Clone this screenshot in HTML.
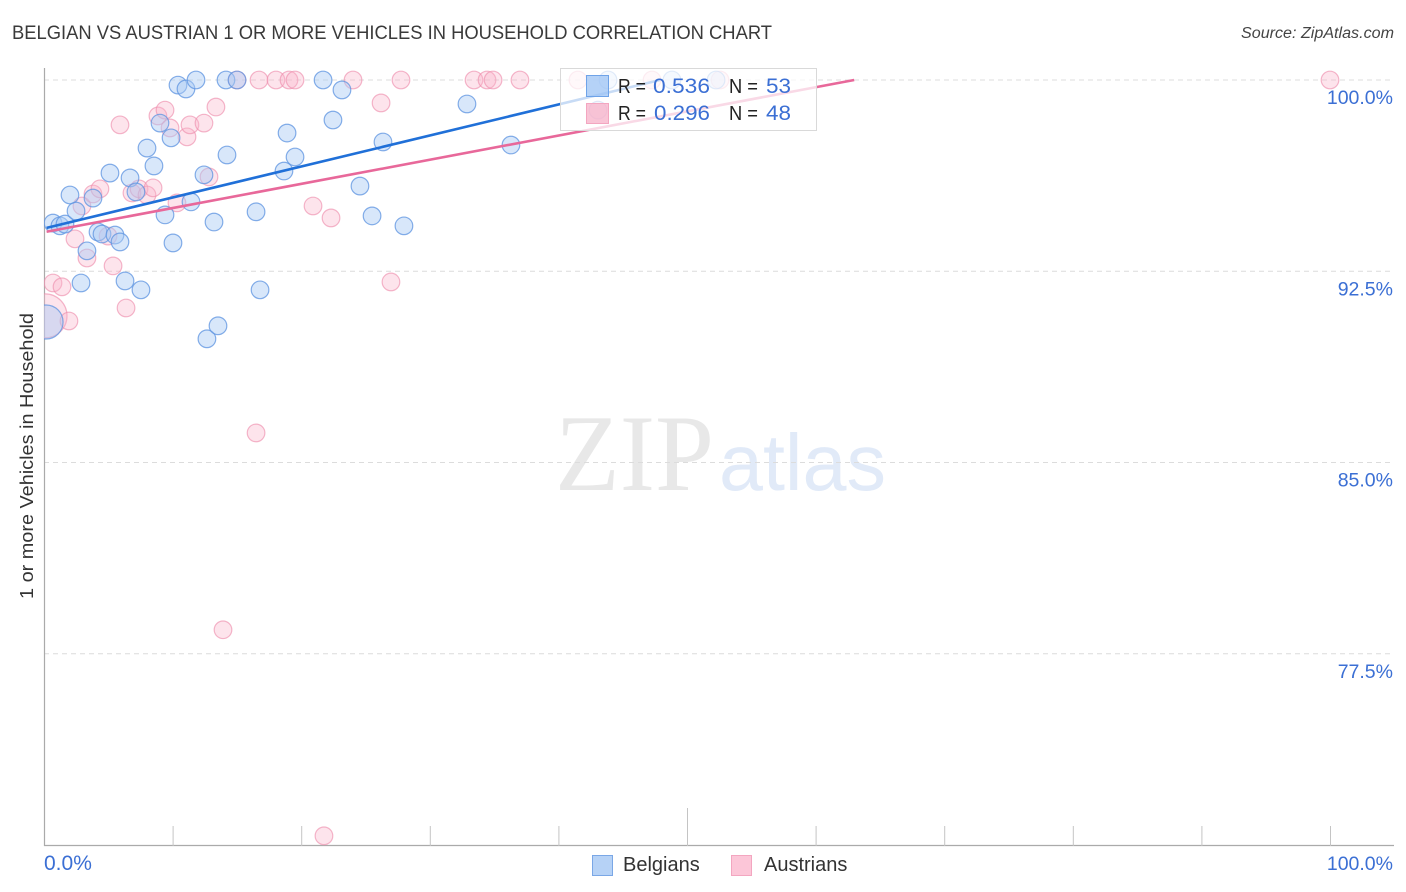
<!DOCTYPE html>
<html>
<head>
<meta charset="utf-8">
<title>Belgian vs Austrian chart</title>
<style>
html,body{margin:0;padding:0;background:#fff;width:1406px;height:892px;overflow:hidden}
svg{display:block;font-family:"Liberation Sans",sans-serif}
</style>
</head>
<body>
<svg id="chart" width="1406" height="892" viewBox="0 0 1406 892">
  <defs><clipPath id="plot-clip"><rect x="44" y="60" width="1350" height="786"/></clipPath></defs>
  <text x="12" y="39" font-size="19.5" fill="#3a3a3a" textLength="760" lengthAdjust="spacingAndGlyphs">BELGIAN VS AUSTRIAN 1 OR MORE VEHICLES IN HOUSEHOLD CORRELATION CHART</text>
  <text x="1394" y="38" font-size="15.5" font-style="italic" fill="#444" text-anchor="end" textLength="153" lengthAdjust="spacingAndGlyphs">Source: ZipAtlas.com</text>
  <g id="watermark">
    <text x="555" y="490" font-family="'Liberation Serif',serif" font-size="109" fill="#e8e8e8" textLength="159" lengthAdjust="spacingAndGlyphs">ZIP</text>
    <text x="719" y="490" font-size="80" fill="#e1eaf8" textLength="167" lengthAdjust="spacingAndGlyphs">atlas</text>
  </g>
  <g id="grid"></g>
  <g id="axes"></g>
  <g id="points" clip-path="url(#plot-clip)"></g>
  <g id="trends"></g>
  <g id="inset-legend">
    <rect x="560.5" y="68.5" width="256" height="62" fill="#fff" fill-opacity="0.75" stroke="#d9d9d9"/>
    <rect x="586.5" y="75.5" width="22" height="21" fill="#9cc3f4" fill-opacity="0.75" stroke="#6fa3e8"/>
    <rect x="586.5" y="103.5" width="22" height="20" fill="#f7b0c8" fill-opacity="0.75" stroke="#f3a6c0"/>
    <text x="618" y="93" font-size="20" fill="#222" textLength="28" lengthAdjust="spacingAndGlyphs">R =</text>
    <text x="653" y="93" font-size="21" fill="#3b6fd4" textLength="57" lengthAdjust="spacingAndGlyphs">0.536</text>
    <text x="729" y="93" font-size="20" fill="#222" textLength="29" lengthAdjust="spacingAndGlyphs">N =</text>
    <text x="766" y="93" font-size="21" fill="#3b6fd4" textLength="25" lengthAdjust="spacingAndGlyphs">53</text>
    <text x="618" y="120" font-size="20" fill="#222" textLength="28" lengthAdjust="spacingAndGlyphs">R =</text>
    <text x="654" y="120" font-size="21" fill="#3b6fd4" textLength="56" lengthAdjust="spacingAndGlyphs">0.296</text>
    <text x="729" y="120" font-size="20" fill="#222" textLength="29" lengthAdjust="spacingAndGlyphs">N =</text>
    <text x="766" y="120" font-size="21" fill="#3b6fd4" textLength="25" lengthAdjust="spacingAndGlyphs">48</text>
  </g>
  <text transform="translate(33,456) rotate(-90)" font-size="18.5" fill="#333" text-anchor="middle" textLength="286" lengthAdjust="spacingAndGlyphs">1 or more Vehicles in Household</text>
  <g id="bottom-legend">
    <rect x="592.5" y="855.5" width="20" height="20" fill="#b6d2f6" stroke="#7aa7e6"/>
    <text x="623" y="871" font-size="20" fill="#333">Belgians</text>
    <rect x="731.5" y="855.5" width="20" height="20" fill="#fcc6d8" stroke="#f3a6c0"/>
    <text x="764" y="871" font-size="20" fill="#333">Austrians</text>
  </g>
</svg>
<script>
const yTickValues = [100, 92.5, 85, 77.5];
const yTickLabels = ["100.0%", "92.5%", "85.0%", "77.5%"];
const xTickValues = [0, 10, 20, 30, 40, 50, 60, 70, 80, 90, 100];
const xEndValues = [0, 100];
const xEndLabels = ["0.0%", "100.0%"];

const belgianX = [0.16,0.70,1.24,1.63,2.02,2.49,3.34,2.88,3.81,4.20,4.51,5.52,5.91,5.13,6.69,7.15,6.30,7.54,8.01,8.55,9.02,9.88,9.41,10.03,11.43,12.44,10.42,11.04,11.82,14.15,15.01,14.23,13.22,12.67,13.53,16.49,16.80,18.66,19.52,18.90,21.70,23.17,22.47,24.57,25.51,26.36,27.99,32.89,36.31,43.86,48.83,52.26,43.08];
const belgianY = [90.51,94.39,94.28,94.35,95.49,94.86,93.30,92.04,95.37,94.04,93.96,93.92,93.65,96.35,96.16,95.61,92.12,91.77,97.33,96.63,98.31,97.73,94.71,93.61,95.22,96.28,99.80,99.65,100,100,100,97.06,94.43,89.85,90.36,94.83,91.77,96.43,96.98,97.92,100,99.61,98.43,95.84,94.67,97.57,94.28,99.06,97.45,100,100,100,98.82];
const belgianRadius = [17].concat(new Array(52).fill(8.8));

const austrianX = [0.08,0.70,1.40,1.94,2.41,3.34,2.95,3.81,4.35,4.98,5.37,6.38,5.91,6.84,7.39,8.01,8.48,8.86,9.41,9.80,10.34,11.12,11.35,12.44,12.83,13.37,13.92,15.01,16.49,16.72,18.04,19.05,19.52,20.92,22.32,21.77,24.03,26.21,26.98,27.76,33.44,34.45,34.92,37.01,41.52,43.08,47.28,52.57,100];
const austrianY = [90.75,92.04,91.89,90.55,93.77,93.02,95.06,95.53,95.73,93.88,92.71,91.06,98.24,95.57,95.73,95.49,95.77,98.59,98.82,98.12,95.18,97.77,98.24,98.31,96.20,98.94,78.44,100,86.16,100,100,100,100,95.06,94.59,70.36,100,99.10,92.08,100,100,100,100,100,100,98.82,100,100,100];
const austrianRadius = [22].concat(new Array(48).fill(8.8));

const belgianTrendX = [0.2, 47.9];
const belgianTrendY = [94.2, 100];
const austrianTrendX = [0.2, 63];
const austrianTrendY = [94.05, 100];

const NS = "http://www.w3.org/2000/svg";
function xScale(v){ return 44 + v * 12.86; }
function yScale(v){ return 80 + (100 - v) * 25.5; }
function make(tag, attrs, parent){
  const el = document.createElementNS(NS, tag);
  for (const k in attrs) el.setAttribute(k, attrs[k]);
  parent.appendChild(el);
  return el;
}
const gridG = document.getElementById("grid");
const axesG = document.getElementById("axes");
const pointsG = document.getElementById("points");
const trendsG = document.getElementById("trends");

yTickValues.forEach(function(v, i){
  const line = make("line", {x1:44, x2:1394, y1:yScale(v), y2:yScale(v), stroke:"#dcdcdc", "stroke-width":1, "stroke-dasharray":"5 4"}, gridG);
  
  
  const label = make("text", {x:1393, y:yScale(v)+24, "font-size":19.5, fill:"#3b6fd4", "text-anchor":"end"}, axesG);
  label.textContent = yTickLabels[i];
  
  
});

const yAxis = make("line", {x1:44.5, x2:44.5, y1:68, y2:846, stroke:"#aaa", "stroke-width":1.2}, axesG);


const xAxis = make("line", {x1:44, x2:1394, y1:845.5, y2:845.5, stroke:"#aaa", "stroke-width":1.2}, axesG);



xTickValues.forEach(function(v){
  if (v === 0) return;
  const tick = make("line", {x1:xScale(v)+0.5, x2:xScale(v)+0.5, y1:(v === 50 ? 808 : 826), y2:846, stroke:"#c4c4c4", "stroke-width":1}, axesG);
  
  
});
xEndValues.forEach(function(v, i){
  const label = make("text", {x:(i === 0 ? xScale(v) : xScale(v)+63), y:870, "font-size":(i === 0 ? 21 : 19.5), fill:"#3b6fd4", "text-anchor":(i === 0 ? "start" : "end")}, axesG);
  label.textContent = xEndLabels[i];
  
  
});

austrianX.forEach(function(v, i){
  const c = make("circle", {cx:xScale(v), cy:yScale(austrianY[i]), r:austrianRadius[i], fill:"#f9b4ca", "fill-opacity":0.36, stroke:"#ee8fae", "stroke-opacity":0.65, "stroke-width":1.2}, pointsG);
  
  
});
belgianX.forEach(function(v, i){
  const c = make("circle", {cx:xScale(v), cy:yScale(belgianY[i]), r:belgianRadius[i], fill:"#a9cbf5", "fill-opacity":0.46, stroke:"#5c93e0", "stroke-opacity":0.75, "stroke-width":1.2}, pointsG);
  
  
});

const pinkLine = make("line", {x1:xScale(austrianTrendX[0]), y1:yScale(austrianTrendY[0]), x2:xScale(austrianTrendX[1]), y2:yScale(austrianTrendY[1]), stroke:"#e8689a", "stroke-width":2.6}, trendsG);


const blueLine = make("line", {x1:xScale(belgianTrendX[0]), y1:yScale(belgianTrendY[0]), x2:xScale(belgianTrendX[1]), y2:yScale(belgianTrendY[1]), stroke:"#2070d8", "stroke-width":2.6}, trendsG);


</script>
</body>
</html>
